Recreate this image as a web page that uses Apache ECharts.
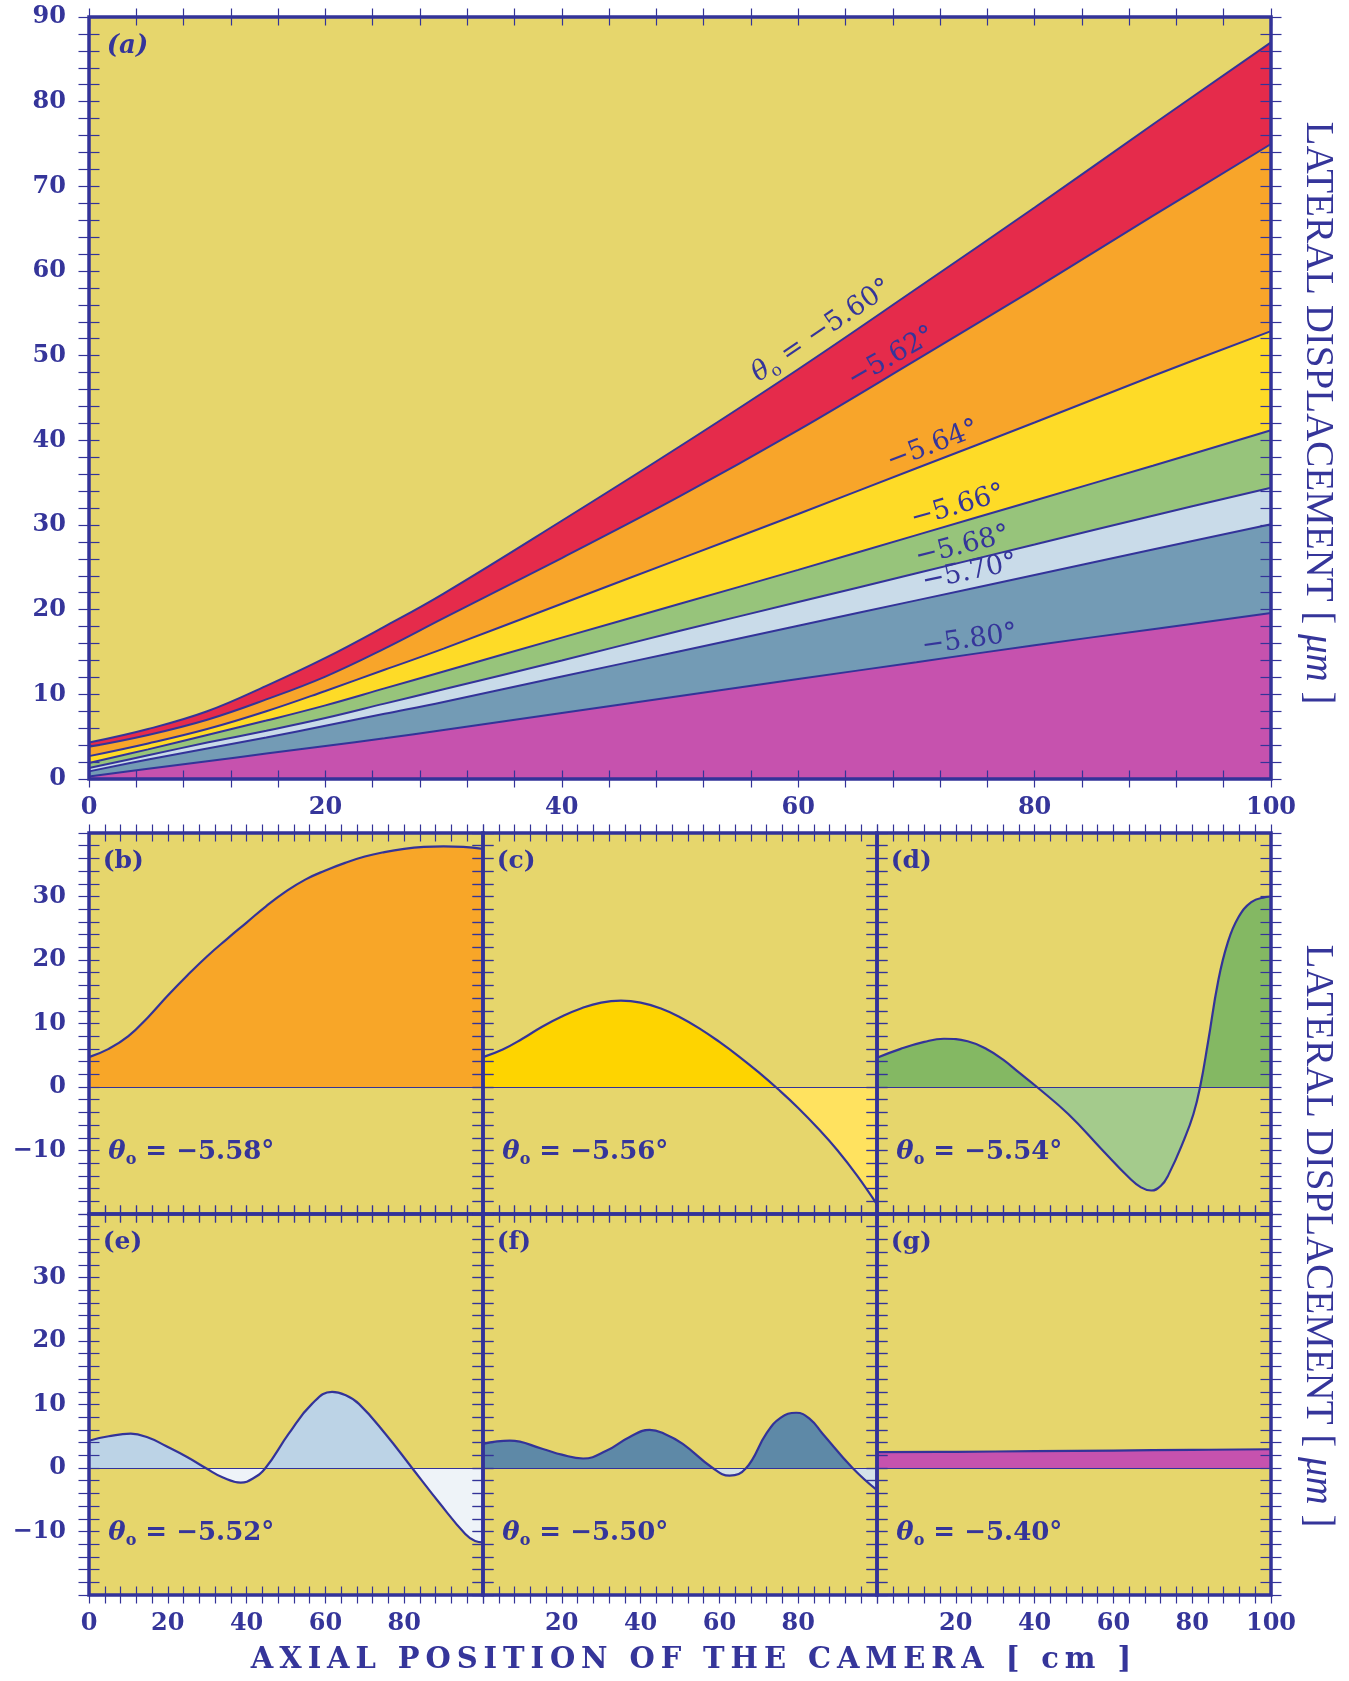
<!DOCTYPE html>
<html lang="en">
<head>
<meta charset="utf-8">
<title>Lateral displacement</title>
<script src="https://cdn.jsdelivr.net/npm/echarts@6.0.0/dist/echarts.min.js"></script>
<style>
  html, body { margin: 0; padding: 0; background: #fff; }
  #chart { width: 1349px; height: 1681px; }
</style>
</head>
<body>
<div id="chart"></div>
<script>
"use strict";

// ── Datos panel (a): una curva por ángulo θo ─────────────────────────────
const X_MAIN = [0, 5, 10, 15, 20, 25, 30, 40, 50, 60, 70, 80, 90, 100];
const Y_560 = [4.3, 5.9, 8.0, 11.0, 14.3, 18.0, 21.9, 30.5, 39.3, 48.4, 57.9, 67.5, 77.3, 87.0];
const Y_562 = [3.8, 5.2, 7.0, 9.4, 12.1, 15.4, 19.0, 26.1, 33.4, 41.2, 49.5, 57.9, 66.5, 75.0];
const Y_564 = [2.7, 4.2, 5.9, 8.0, 10.4, 12.9, 15.4, 20.7, 26.0, 31.3, 36.7, 42.1, 47.6, 52.9];
const Y_566 = [1.9, 3.5, 5.2, 6.9, 8.7, 10.7, 12.7, 16.7, 20.7, 24.7, 28.8, 32.9, 37.0, 41.2];
const Y_568 = [1.3, 2.8, 4.3, 5.7, 7.2, 8.9, 10.6, 14.0, 17.5, 20.9, 24.3, 27.7, 31.1, 34.4];
const Y_570 = [0.9, 2.3, 3.6, 4.9, 6.3, 7.7, 9.1, 12.1, 15.1, 18.1, 21.1, 24.1, 27.1, 30.1];
const Y_580 = [0.3, 1.2, 2.1, 3.0, 3.9, 4.8, 5.8, 7.8, 9.8, 11.8, 13.8, 15.8, 17.7, 19.6];
const LABELS_A = ["−5.60°", "−5.62°", "−5.64°", "−5.66°", "−5.68°", "−5.70°", "−5.80°"];

// ── Datos paneles (b)–(g) ─────────────────────────────────────────────────
const X_STEP5 = [0, 5, 10, 15, 20, 25, 30, 35, 40, 45, 50, 55, 60, 65, 70, 75, 80, 85, 90, 95, 100];
const B_Y = [4.7, 6.0, 8.0, 11.0, 14.4, 17.6, 20.6, 23.3, 25.9, 28.5, 30.8, 32.7, 34.1, 35.3, 36.3, 37.0, 37.5, 37.8, 37.9, 37.8, 37.5];
const C_Y = [4.7, 5.9, 7.6, 9.5, 11.1, 12.4, 13.3, 13.6, 13.3, 12.4, 11.0, 9.2, 7.1, 4.8, 2.3, -0.4, -3.3, -6.5, -10.0, -14.0, -18.5];
const D_X = [0, 6, 12, 17, 23, 28, 32, 36, 40.6, 48.6, 57, 64, 67, 69.6, 72, 74, 78, 80.3, 82, 84, 86.6, 89, 91.7, 95, 98.5, 100];
const D_Y = [4.6, 6.0, 7.1, 7.6, 7.2, 5.9, 4.3, 2.3, 0, -4.3, -9.8, -14.3, -15.8, -16.3, -15.6, -13.8, -8.2, -4.3, 0, 7.0, 16.7, 22.7, 26.7, 29.1, 29.9, 30.0];
const E_X = [0, 5, 10.6, 15, 19.4, 25, 29.6, 34, 38.5, 41.5, 44.8, 50.7, 56.6, 61.7, 65, 68.5, 75.2, 82, 88.8, 95.5, 98, 100];
const E_Y = [4.3, 5.0, 5.4, 4.8, 3.5, 1.7, 0, -1.5, -2.3, -1.7, 0, 5.4, 10.1, 12.0, 11.5, 10.1, 5.4, 0, -5.4, -10.4, -11.5, -11.7];
const F_X = [0, 6.8, 15.2, 20, 25.4, 31.3, 37, 42.3, 46, 50.7, 58.3, 62.6, 66.8, 71.9, 75.5, 79.5, 83, 86.2, 93.8, 100];
const F_Y = [3.8, 4.3, 3.0, 2.1, 1.5, 2.7, 4.8, 6.0, 5.4, 3.8, 0, -1.2, 0, 5.4, 7.9, 8.7, 7.7, 5.4, 0, -3.5];
const G_X = [0, 20, 40, 60, 80, 100];
const G_Y = [2.5, 2.55, 2.65, 2.75, 2.85, 2.95];

// ── Estilo ────────────────────────────────────────────────────────────────
const INK = "#333399";
const TXT = "#35359a";
const FONDO = "#e6d66c";
const SERIF = "DejaVu Serif";
const ROMAN = "Liberation Serif";
const BANDAS = ["#e52b4b", "#f8a52a", "#fedb27", "#97c47b", "#c9dbe9", "#739bb5", "#c652ae"];

const PANELES = [
  { tag: "(b)", theta: "−5.58°", xs: X_STEP5, ys: B_Y, above: "#f8a628", below: "#f8a628" },
  { tag: "(c)", theta: "−5.56°", xs: X_STEP5, ys: C_Y, above: "#fed400", below: "#ffe25f" },
  { tag: "(d)", theta: "−5.54°", xs: D_X, ys: D_Y, above: "#84b863", below: "#a4cb8c" },
  { tag: "(e)", theta: "−5.52°", xs: E_X, ys: E_Y, above: "#bcd3e6", below: "#eef3f8" },
  { tag: "(f)", theta: "−5.50°", xs: F_X, ys: F_Y, above: "#5e89a7", below: "#d4e2ea" },
  { tag: "(g)", theta: "−5.40°", xs: G_X, ys: G_Y, above: "#c652ae", below: "#c652ae" },
];

const grids = [], xAxes = [], yAxes = [], series = [], visualMaps = [];

function minus(v) { return v < 0 ? "\u2212" + Math.abs(v) : String(v); }

function ticks(len, inside) {
  return { show: true, inside, length: len, lineStyle: { color: INK, width: 1.2 } };
}

function labelFont(margin, extra) {
  return Object.assign({
    show: true, margin, color: TXT, fontFamily: SERIF, fontWeight: "bold", fontSize: 24, formatter: minus,
  }, extra);
}

// Panel con marco grueso; marcas hacia dentro y hacia fuera en los cuatro lados
function addPanel(rect, yMin, yMax, xLab, yLab) {
  const g = grids.length;
  grids.push({
    left: rect[0], top: rect[1], width: rect[2], height: rect[3],
    show: true, backgroundColor: "transparent", borderColor: INK, borderWidth: 3.5,
    z: 5, containLabel: false, outerBoundsMode: "none",
  });
  const xc = { gridIndex: g, type: "value", min: 0, max: 100, interval: 20, axisLine: { show: false, onZero: false }, splitLine: { show: false }, z: 6 };
  const yc = { gridIndex: g, type: "value", min: yMin, max: yMax, interval: 10, axisLine: { show: false, onZero: false }, splitLine: { show: false }, z: 6 };
  const xt = inside => ({ axisTick: ticks(8.5, inside), minorTick: Object.assign(ticks(8.5, inside), { splitNumber: 5 }) });
  const yt = inside => ({ axisTick: ticks(10.5, inside), minorTick: Object.assign(ticks(10.5, inside), { splitNumber: 5 }) });
  const off = { show: false };
  xAxes.push(Object.assign({}, xc, xt(false), { position: "bottom", axisLabel: xLab ? labelFont(xLab.margin, xLab.extra) : off }));
  xAxes.push(Object.assign({}, xc, xt(true), { position: "bottom", axisLabel: off }));
  xAxes.push(Object.assign({}, xc, xt(false), { position: "top", axisLabel: off }));
  xAxes.push(Object.assign({}, xc, xt(true), { position: "top", axisLabel: off }));
  xAxes.push(Object.assign({}, xc, {
    position: "bottom", z: 0, axisTick: off, axisLabel: off,
    splitArea: { show: true, areaStyle: { color: [FONDO] } },
  }));
  yAxes.push(Object.assign({}, yc, yt(false), { position: "left", axisLabel: yLab ? labelFont(23, yLab) : off }));
  yAxes.push(Object.assign({}, yc, yt(true), { position: "left", axisLabel: off }));
  yAxes.push(Object.assign({}, yc, yt(false), { position: "right", axisLabel: off }));
  yAxes.push(Object.assign({}, yc, yt(true), { position: "right", axisLabel: off }));
  return { xAxisIndex: 5 * g, yAxisIndex: 4 * g };
}

// ── Panel (a) ─────────────────────────────────────────────────────────────
const axA = addPanel([89, 17, 1182, 762], 0, 90, { margin: 17, extra: {} }, {});
[Y_560, Y_562, Y_564, Y_566, Y_568, Y_570, Y_580].forEach((ys, i) => {
  series.push({
    type: "line", name: LABELS_A[i], xAxisIndex: axA.xAxisIndex, yAxisIndex: axA.yAxisIndex,
    data: X_MAIN.map((x, k) => [x, ys[k]]),
    smooth: 0.4, symbol: "none", silent: true,
    lineStyle: { color: INK, width: 2 },
    areaStyle: { color: BANDAS[i], opacity: 1 },
  });
});

// ── Paneles (b)–(g) ───────────────────────────────────────────────────────
const COLS = [89, 483, 877];
const ROWS = [833, 1214];
const axS = PANELES.map((p, i) => {
  const r = Math.floor(i / 3), c = i % 3;
  const xLab = r === 1 ? { margin: 17.2, extra: { showMinLabel: c === 0, showMaxLabel: c === 2 } } : null;
  const yLab = c === 0 ? { showMinLabel: false, showMaxLabel: false } : null;
  const ax = addPanel([COLS[c], ROWS[r], 394, 381], -20, 40, xLab, yLab);
  visualMaps.push({
    type: "piecewise", show: false, seriesIndex: series.length, dimension: 1,
    pieces: [{ gte: -100, lt: 0, color: p.below }, { gte: 0, lte: 100, color: p.above }],
  });
  series.push({
    type: "line", name: p.theta, xAxisIndex: ax.xAxisIndex, yAxisIndex: ax.yAxisIndex,
    data: p.xs.map((x, k) => [x, p.ys[k]]),
    smooth: 0.45, symbol: "none", silent: true,
    lineStyle: { color: INK, width: 2.2 },
    areaStyle: { opacity: 1 },
    markLine: {
      silent: true, symbol: ["none", "none"], label: { show: false },
      lineStyle: { color: INK, width: 1.2, type: "solid" }, data: [{ yAxis: 0 }],
    },
  });
  return ax;
});

const chart = echarts.init(document.getElementById("chart"), null, { renderer: "canvas" });
chart.setOption({
  backgroundColor: "#ffffff", animation: false,
  grid: grids, xAxis: xAxes, yAxis: yAxes, series, visualMap: visualMaps,
});

// ── Anotaciones ───────────────────────────────────────────────────────────
function richSet(size, weight) {
  return {
    n: { fontFamily: SERIF, fontSize: size, fontWeight: weight, fill: TXT, lineHeight: size + 6 },
    t: { fontFamily: SERIF, fontSize: size, fontWeight: weight, fontStyle: "italic", fill: TXT, lineHeight: size + 6 },
    s: { fontFamily: SERIF, fontSize: Math.round(size * 0.62), fontWeight: weight, fill: TXT, lineHeight: 10, verticalAlign: "bottom" },
  };
}
function px(ax, pt) { return chart.convertToPixel({ xAxisIndex: ax.xAxisIndex, yAxisIndex: ax.yAxisIndex }, pt); }
function txt(pos, text, rich, opts) {
  return Object.assign({
    type: "text", x: pos[0], y: pos[1], silent: true, z: 100,
    style: { text, rich, align: "left", verticalAlign: "middle" },
  }, opts || {});
}

const graphics = [];
const ANCLA_A = [[62.0, 52.9, 34], [67.9, 49.8, 30], [71.4, 39.4, 21], [73.5, 32.2, 16], [73.9, 27.5, 14], [74.5, 24.4, 12], [74.5, 16.4, 8]];
ANCLA_A.forEach((a, i) => {
  const t = i === 0 ? "{t|θ}{s|o}{n| = " + LABELS_A[i] + "}" : "{n|" + LABELS_A[i] + "}";
  const g = txt(px(axA, [a[0], a[1]]), t, richSet(27, "normal"), { rotation: a[2] * Math.PI / 180 });
  g.style.align = "center";
  graphics.push(g);
});
graphics.push(txt(px(axA, [1.5, 86.6]), "{t|(a)}", richSet(26, "bold")));

PANELES.forEach((p, i) => {
  graphics.push(txt(px(axS[i], [3.5, 35.5]), "{n|" + p.tag + "}", richSet(25, "bold")));
  graphics.push(txt(px(axS[i], [4.9, -10.2]), "{t|θ}{s|o}{n| = " + p.theta + "}", richSet(26, "bold")));
});

// Títulos de ejes
const yTitle = {
  n: { fontFamily: ROMAN, fontSize: 39, fill: TXT },
  i: { fontFamily: ROMAN, fontSize: 39, fontStyle: "italic", fill: TXT },
};
[[1317, 413], [1317, 1236]].forEach(pos => {
  const g = txt(pos, "{n|LATERAL DISPLACEMENT [ }{i|μm}{n| ]}", yTitle, { rotation: -Math.PI / 2 });
  g.style.align = "center";
  graphics.push(g);
});
const X_TITLE = "AXIAL POSITION OF THE CAMERA [ cm ]";
const xt = txt([691, 1660], X_TITLE.split("").map(ch => "{c|" + ch + "}").join(""), {
  c: { fontFamily: SERIF, fontSize: 29, fontWeight: "bold", fill: TXT, padding: [0, 2.95, 0, 2.95] },
});
xt.style.align = "center";
graphics.push(xt);

chart.setOption({ graphic: graphics });
window.addEventListener("resize", () => chart.resize());
</script>
</body>
</html>
